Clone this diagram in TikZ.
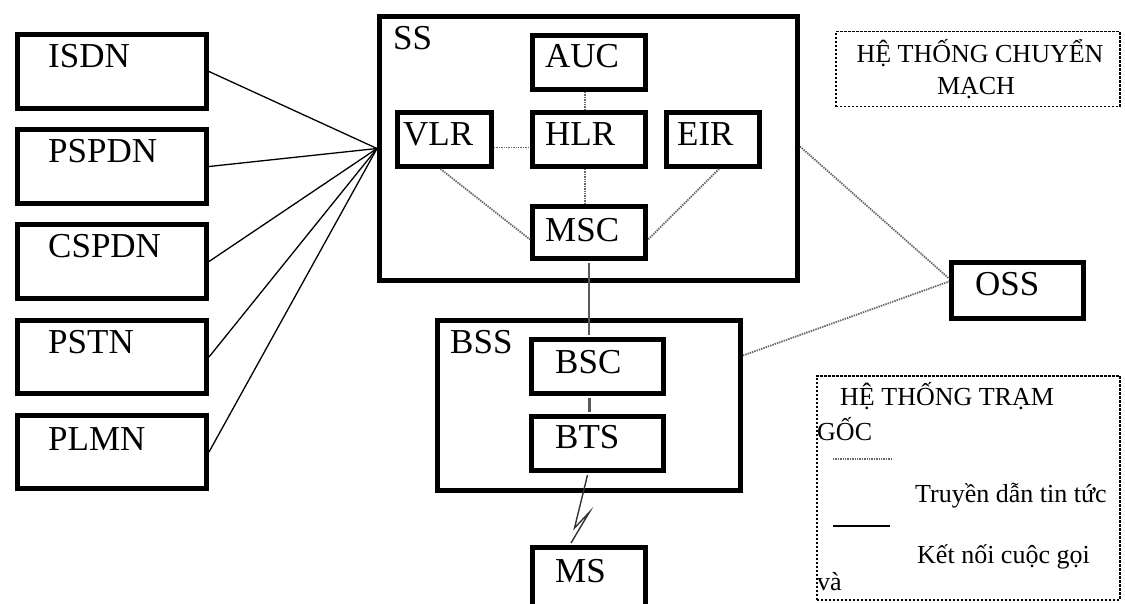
\documentclass[tikz,border=0pt]{standalone}
\usepackage{fontspec}
\setmainfont{Liberation Serif}
\usetikzlibrary{calc}
\begin{document}
\begin{tikzpicture}[x=1pt,y=-1pt,
  box/.style={draw=black, line width=5pt, fill=white, inner sep=0pt, anchor=north west},
  legbox/.style={draw=black, line width=1.5pt, dash pattern=on 2.5pt off 1.5pt, inner sep=0pt, anchor=north west},
  lbl/.style={font=\fontsize{35}{40}\selectfont, inner sep=0pt, anchor=base west},
  legtxt/.style={font=\fontsize{26}{32}\selectfont, inner sep=0pt},
  feed/.style={draw=black, line width=1.3pt},
  dotlink/.style={draw=black!60, line width=1.8pt, dash pattern=on 1.4pt off 1pt},
  trunk/.style={draw=black!65, line width=2.2pt}]
\useasboundingbox (0,0) rectangle (1125,604);
\clip (0,0) rectangle (1125,604);
\fill[white] (0,0) rectangle (1125,604);

% external networks
\node[box, minimum width=189pt, minimum height=74pt] (isdn)  at (15,32)  {};
\node[box, minimum width=189pt, minimum height=74pt] (pspdn) at (15,127) {};
\node[box, minimum width=189pt, minimum height=74pt] (cspdn) at (15,222) {};
\node[box, minimum width=189pt, minimum height=73pt] (pstn)  at (15,318) {};
\node[box, minimum width=189pt, minimum height=73pt] (plmn)  at (15,413) {};
\node[lbl] (isdn-l)  at (48,68)  {ISDN};
\node[lbl] (pspdn-l) at (48,163) {PSPDN};
\node[lbl] (cspdn-l) at (48,258) {CSPDN};
\node[lbl] (pstn-l)  at (48,353) {PSTN};
\node[lbl] (plmn-l)  at (48,450) {PLMN};

% switching subsystem
\node[box, minimum width=418pt, minimum height=264pt] (ss) at (377,14) {};
\node[lbl] (ss-l) at (393,50) {SS};
\node[box, minimum width=113pt, minimum height=54pt] (auc) at (530,33)  {};
\node[box, minimum width=94pt,  minimum height=54pt] (vlr) at (395,110) {};
\node[box, minimum width=113pt, minimum height=54pt] (hlr) at (530,110) {};
\node[box, minimum width=93pt,  minimum height=54pt] (eir) at (664,110) {};
\node[box, minimum width=113pt, minimum height=52pt] (msc) at (530,204) {};
\node[lbl] (auc-l) at (545,68)  {AUC};
\node[lbl] (vlr-l) at (403,146) {VLR};
\node[lbl] (hlr-l) at (545,146) {HLR};
\node[lbl] (eir-l) at (677,146) {EIR};
\node[lbl] (msc-l) at (545,242) {MSC};

% base station subsystem
\node[box, minimum width=303pt, minimum height=170pt] (bss) at (435,318) {};
\node[lbl] (bss-l) at (450,353) {BSS};
\node[box, minimum width=132pt, minimum height=54pt] (bsc) at (529,337) {};
\node[box, minimum width=132pt, minimum height=54pt] (bts) at (529,414) {};
\node[lbl] (bsc-l) at (555,373) {BSC};
\node[lbl] (bts-l) at (555,448) {BTS};

% mobile station and operation subsystem
\node[box, minimum width=113pt, minimum height=80pt] (ms)  at (530,545) {};
\node[lbl] (ms-l) at (555,582) {MS};
\node[box, minimum width=132pt, minimum height=56pt] (oss) at (949,260) {};
\node[lbl] (oss-l) at (975,295) {OSS};

% links from external networks into the SS
\foreach \n in {isdn,pspdn,cspdn,pstn,plmn}
  \draw[feed] (\n.east) -- (ss.west);

% signalling links inside the SS
\draw[dotlink] ([yshift=-8pt]vlr.east) -- ([yshift=-8pt]hlr.west);
\draw[dotlink] ([xshift=-4pt]auc.south) -- ([xshift=-4pt]hlr.north);
\draw[dotlink] ([xshift=-4pt]hlr.south) -- ([xshift=-4pt]msc.north);
\draw[dotlink] ([xshift=-4pt]vlr.south) -- ([yshift=-7pt]msc.west);
\draw[dotlink] ([xshift=6pt]eir.south) -- ([yshift=-7pt]msc.east);

% links to the OSS
\draw[dotlink] ([yshift=2pt]ss.east) -- ([yshift=12pt]oss.west);
\draw[dotlink] ([yshift=50pt]bss.east) -- ([yshift=9pt]oss.west);

% traffic path MSC - BSC - BTS
\draw[trunk] ([yshift=-2pt]msc.south) -- ([yshift=2pt]msc.south |- bsc.north);
\draw[trunk] ([xshift=-8pt,yshift=-2pt]bsc.south) -- ([xshift=-8pt,yshift=2pt]bts.north);

% radio link BTS - MS
\draw[black!80, line width=1.4pt, line join=miter]
  ([xshift=-10pt,yshift=-2pt]bts.south) -- ++(-13,53) -- ++(15,-16) -- ([xshift=-18pt,yshift=2pt]ms.north);

% legend
\node[legbox, minimum width=284pt, minimum height=75pt] (leg1) at (835,31) {};
\node[legtxt, anchor=base] (leg1-a) at (980,63) {HỆ THỐNG CHUYỂN};
\node[legtxt, anchor=base] (leg1-b) at (976,95) {MẠCH};

\node[legbox, minimum width=303pt, minimum height=224pt] (leg2) at (816,375) {};
\node[legtxt, anchor=base west] (leg2-a) at (840,405) {HỆ THỐNG TRẠM};
\node[legtxt, anchor=base west] (leg2-b) at (817,440) {GỐC};
\coordinate (kd1) at (833,459);
\coordinate (kd2) at (893,459);
\draw[dotlink] (kd1) -- (kd2);
\node[legtxt, anchor=base west] (leg2-c) at (915,502) {Truyền dẫn tin tức};
\coordinate (ks1) at (833,526);
\coordinate (ks2) at (890,526);
\draw[black, line width=1.5pt] (ks1) -- (ks2);
\node[legtxt, anchor=base west] (leg2-d) at (917,563) {Kết nối cuộc gọi};
\node[legtxt, anchor=base west] (leg2-e) at (817,590) {và};
\end{tikzpicture}
\end{document}
